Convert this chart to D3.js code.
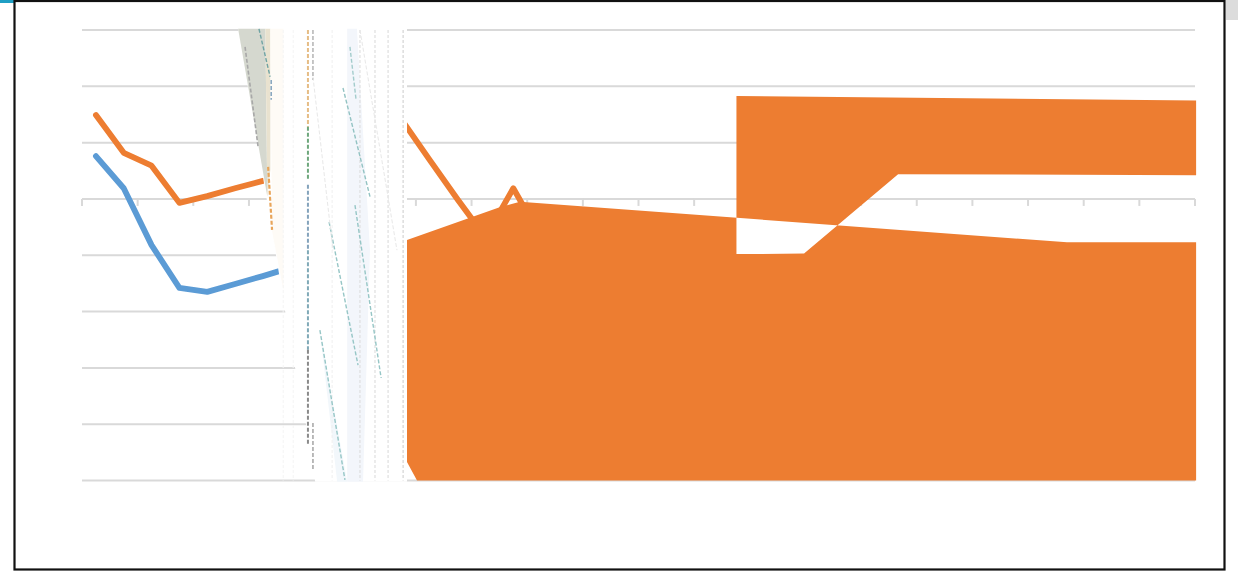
<!DOCTYPE html>
<html>
<head>
<meta charset="utf-8">
<style>html,body{margin:0;padding:0;background:#fff;overflow:hidden}svg{display:block}</style>
<script src="https://cdn.jsdelivr.net/npm/d3@7"></script>
</head>
<body>
<svg id="c" width="1238" height="571"></svg>
<script>
const yTicks = [-5,-4,-3,-2,-1,0,1,2,3];
const xTicks = d3.range(-0.5, 40, 2);

// series values, by category index
const orangeSeries = [1.49,0.82,0.59,-0.07,0.05,0.19,0.32,0.5,0.7,1.0,1.3,1.4,0.69,-0.01,-0.68,0.19,-0.68];
const blueSeries = [0.76,0.19,-0.82,-1.58,-1.65,-1.51,-1.37,-1.22];

// filled orange shapes: [category position, value]
const areaLower = [[11.18,-0.73],[14.56,-0.14],[15.24,-0.05],[34.9,-0.77],[39.54,-0.77],[39.54,-5],[11.54,-5],[11.18,-4.67]];
const areaUpper = [[23.02,1.83],[39.54,1.75],[39.54,0.42],[28.83,0.44],[25.45,-0.97],[23.02,-0.98]];

// broken overlay region
const overlayOutline = [[5.11,3.02],[6.33,-0.57],[6.80,-1.99],[7.16,-3],[7.55,-4],[7.88,-5.02],[11.18,-5.02],[11.18,3.02]];
const overlayFills = [
  {c:"#d5d8cf",p:[[5.11,3.02],[6.09,3.02],[6.16,0.04]]},
  {c:"#e9e2cf",p:[[6.09,3.02],[6.27,3.02],[6.27,0.52],[6.16,0.04]]},
  {c:"#fefbf6",p:[[6.27,3.02],[6.74,3.02],[6.74,-1.62],[6.33,-0.57]]},
  {c:"#f3f6fb",p:[[9.03,3.02],[9.38,3.02],[9.85,-0.91],[9.60,-5.02],[9.03,-5.02]]},
  {c:"#f2f7fb",p:[[8.05,-2.33],[9.03,-5.02],[8.67,-5.02]]}
];
const overlayRules = [
  {x:6.73,c:"#f4f4f4"},{x:7.09,c:"#f4f4f4"},{x:8.49,c:"#efefef"},
  {x:9.49,c:"#dadada"},{x:10.03,c:"#d8d8d8"},{x:10.50,c:"#d8d8d8"},{x:11.04,c:"#cccccc"}
];
const overlayStreaks = [
  {c:"#a8a8a8",w:1.6,p:[[5.36,2.7],[5.83,0.92]]},
  {c:"#6fa3a3",w:1.4,p:[[5.86,3.02],[6.26,2.17]]},
  {c:"#8aa8c0",w:1.6,p:[[6.30,2.11],[6.30,1.76]]},
  {c:"#e8a55a",w:2.2,p:[[6.19,0.57],[6.33,-0.55]]},
  {c:"#e6bd85",w:2,p:[[7.62,3],[7.62,1.28]]},
  {c:"#6ea77c",w:2,p:[[7.62,1.28],[7.62,0.34]]},
  {c:"#84a3bc",w:2,p:[[7.62,0.25],[7.62,-0.91]]},
  {c:"#80a9b7",w:2,p:[[7.62,-0.91],[7.62,-2.68]]},
  {c:"#8a8a8a",w:2,p:[[7.62,-2.68],[7.62,-4.37]]},
  {c:"#b8b8b8",w:1.6,p:[[7.80,3],[7.80,2.11]]},
  {c:"#aaaaaa",w:1.6,p:[[7.80,-3.98],[7.80,-4.81]]},
  {c:"#93c3c3",w:1.4,p:[[8.88,1.97],[9.85,0.04]]},
  {c:"#a3cccc",w:1.4,p:[[9.13,2.7],[9.35,1.76]]},
  {c:"#96c6c6",w:1.4,p:[[8.38,-0.41],[9.42,-2.95]]},
  {c:"#96c6c6",w:1.4,p:[[9.31,-0.11],[10.25,-3.18]]},
  {c:"#96c6c6",w:1.4,p:[[8.05,-2.33],[8.95,-4.99]]},
  {c:"#e8e8e8",w:1,p:[[7.80,2.17],[8.52,-0.91]]},
  {c:"#e8e8e8",w:1,p:[[9.49,3],[10.82,-0.91]]}
];

const gridColor = "#d9d9d9", orange = "#ed7d31", blue = "#5b9bd5";
const svg = d3.select("#c");
const x = d3.scaleLinear().domain([-0.5,39.5]).range([82,1195]);
const y = d3.scaleLinear().domain([-5,3]).range([480.5,30]);
const xy = d => [x(d[0]), y(d[1])];
const poly = pts => "M" + pts.map(p => xy(p).join(",")).join("L") + "Z";

// chrome outside the frame
svg.append("rect").attr("x",0).attr("y",0).attr("width",14).attr("height",3).attr("fill","#1f9fc4");
svg.append("rect").attr("x",1226).attr("y",0).attr("width",12).attr("height",20).attr("fill","#dcdcdc");

// gridlines
const grid = svg.append("g").attr("transform",`translate(${x.range()[0]},0)`)
  .call(d3.axisLeft(y).offset(0).tickValues(yTicks).tickSize(-(x.range()[1]-x.range()[0])).tickFormat(""));
grid.select(".domain").remove();
grid.selectAll("line").attr("stroke",gridColor).attr("stroke-width",2);

// category axis
const axis = svg.append("g").attr("transform",`translate(0,${y(0)})`)
  .call(d3.axisBottom(x).offset(0).tickValues(xTicks).tickSize(7).tickSizeOuter(0).tickFormat(""));
axis.select(".domain").attr("stroke",gridColor).attr("stroke-width",2);
axis.selectAll("line").attr("stroke",gridColor).attr("stroke-width",2);

// lines
const line = d3.line().x((d,i)=>x(i)).y(d=>y(d));
[[blueSeries,blue],[orangeSeries,orange]].forEach(([s,c])=>{
  svg.append("path").attr("d",line(s)).attr("fill","none").attr("stroke",c)
    .attr("stroke-width",5.8).attr("stroke-linecap","round").attr("stroke-linejoin","round");
});

// orange shapes (overlap knocks out)
svg.append("path").attr("d",poly(areaLower)+poly(areaUpper)).attr("fill",orange).attr("fill-rule","evenodd");

// overlay
svg.append("path").attr("d",poly(overlayOutline)).attr("fill","#fff");
svg.append("g").selectAll("path").data(overlayFills).join("path")
  .attr("d",d=>poly(d.p)).attr("fill",d=>d.c);
svg.append("g").selectAll("line").data(overlayRules).join("line")
  .attr("x1",d=>x(d.x)).attr("x2",d=>x(d.x)).attr("y1",y(3)).attr("y2",y(-5))
  .attr("stroke",d=>d.c).attr("stroke-width",1).attr("stroke-dasharray","3 2");
svg.append("g").selectAll("path").data(overlayStreaks).join("path")
  .attr("d",d=>"M"+d.p.map(p=>xy(p).join(",")).join("L"))
  .attr("fill","none").attr("stroke",d=>d.c).attr("stroke-width",d=>d.w).attr("stroke-dasharray","4 2");

// frame
svg.append("rect").attr("x",14.5).attr("y",1).attr("width",1210).attr("height",568.5)
  .attr("fill","none").attr("stroke","#111").attr("stroke-width",2.2);
</script>
</body>
</html>
